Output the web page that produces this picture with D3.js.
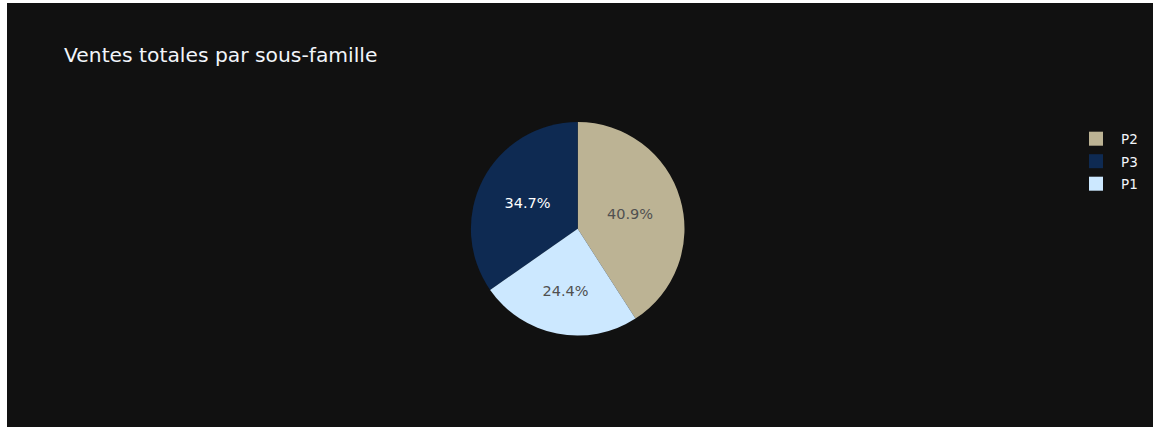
<!DOCTYPE html>
<html>
<head>
<meta charset="utf-8">
<script src="https://cdn.jsdelivr.net/npm/d3@7"></script>
<style>
  html, body { margin: 0; padding: 0; background: #ffffff; }
  #chart { position: absolute; left: 7px; top: 3px; }
  text { font-family: "DejaVu Sans", Verdana, sans-serif; }
</style>
</head>
<body>
<div id="chart"></div>
<script>
// Sub-family sales shares (percent of total sales)
const categories = ["P2", "P3", "P1"];
const shares = [40.9, 34.7, 24.4];
const colors = ["#bcb394", "#0e2a52", "#cce8ff"];
const textColors = ["#505050", "#ffffff", "#505050"];

const width = 1146, height = 424;
const svg = d3.select("#chart").append("svg")
  .attr("width", width).attr("height", height);

svg.append("rect").attr("width", width).attr("height", height).attr("fill", "#111111");

svg.append("text")
  .attr("x", 57).attr("y", 59)
  .attr("fill", "#f2f5fa")
  .attr("font-size", 20.3)
  .text("Ventes totales par sous-famille");

const data = categories.map((c, i) => ({ name: c, value: shares[i], color: colors[i], tc: textColors[i] }));

// slices run counter-clockwise, the first one ending at 12 o'clock
const total = d3.sum(shares);
const start = 2 * Math.PI * shares[0] / total;
const pie = d3.pie().sort(null).value(d => d.value)
  .startAngle(start).endAngle(start - 2 * Math.PI);

const radius = 106.8;
const arc = d3.arc().innerRadius(0).outerRadius(radius);

// label sits at the centre of the largest circle inscribed in its slice
function labelPos(d) {
  const half = Math.abs(d.endAngle - d.startAngle) / 2;
  const s = half < Math.PI / 2 ? Math.sin(half) : 1;
  const rc = radius / (1 + s);
  const mid = (d.startAngle + d.endAngle) / 2;
  return [rc * Math.sin(mid), -rc * Math.cos(mid)];
}

const g = svg.append("g").attr("transform", "translate(570.7,225.8)");
const arcs = pie(data);

g.selectAll("path.slice").data(arcs).join("path")
  .attr("class", "slice")
  .attr("d", arc)
  .attr("fill", d => d.data.color);

const fmt = d3.format(".1f");
g.selectAll("text.pct").data(arcs).join("text")
  .attr("class", "pct")
  .attr("transform", d => `translate(${labelPos(d)})`)
  .attr("text-anchor", "middle")
  .attr("dy", "0.36em")
  .attr("font-size", 14.5)
  .attr("fill", d => d.data.tc)
  .text(d => fmt(d.data.value) + "%");

// legend
const legend = svg.append("g").attr("transform", "translate(1082,128.7)");
const rows = legend.selectAll("g").data(data).join("g")
  .attr("transform", (d, i) => `translate(0,${i * 22.5})`);
rows.append("rect")
  .attr("width", 14).attr("height", 14)
  .attr("fill", d => d.color);
rows.append("text")
  .attr("x", 32).attr("y", 12.3)
  .attr("fill", "#f2f5fa")
  .attr("font-size", 13.5)
  .text(d => d.name);
</script>
</body>
</html>
